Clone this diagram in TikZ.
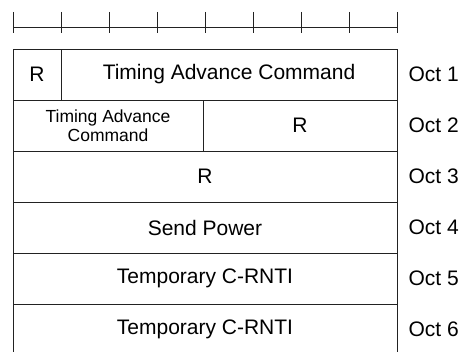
\documentclass[tikz,border=0pt]{standalone}
\usepackage{fontspec}
\setmainfont{Liberation Sans}
\usetikzlibrary{positioning}
\definecolor{Rule}{HTML}{222222}
\tikzset{
  field/.style={draw=Rule,line width=0.8pt,minimum height=51pt,inner sep=0pt,
    font=\fontsize{21}{24}\selectfont},
  smallfield/.style={field,font=\fontsize{17.5}{19}\selectfont,align=center},
  octlabel/.style={anchor=west,inner sep=0pt,font=\fontsize{21}{24}\selectfont}
}

\begin{document}
\begin{tikzpicture}[x=1pt,y=-1pt,line cap=butt]
        \clip (0,0) rectangle (462,352);
        % ruler over the bits
        \draw[Rule,line width=0.8pt] (13,27) -- (397,27);
        \foreach \i in {0,...,8}{\draw[Rule,line width=0.8pt] ({13+48*\i},12) -- ++(0,21);}
        % octet 1
        \node[field,minimum width=48pt] (r1) at (37,74.5) {R};
        \node[field,minimum width=336pt] (tac1) at (229,74.5) {Timing Advance Command};
        % octet 2
        \node[smallfield,minimum width=190pt] (tac2) at (108,125.5) {Timing Advance\\Command};
        \node[field,minimum width=194pt] (r2) at (300,125.5) {R};
        % octets 3 to 6
        \node[field,minimum width=384pt] (r3) at (205,176.5) {R};
        \node[field,minimum width=384pt] (power) at (205,227.5) {Send Power};
        \node[field,minimum width=384pt] (crnti1) at (205,278.5) {Temporary C-RNTI};
        \node[field,minimum width=384pt] (crnti2) at (205,329.5) {Temporary C-RNTI};
        % octet numbers
        \foreach \n/\f in {1/tac1,2/r2,3/r3,4/power,5/crnti1,6/crnti2}{
          \node[octlabel] (oct\n) at ([xshift=11pt]\f.east) {Oct \n};}
      \end{tikzpicture}
\end{document}
